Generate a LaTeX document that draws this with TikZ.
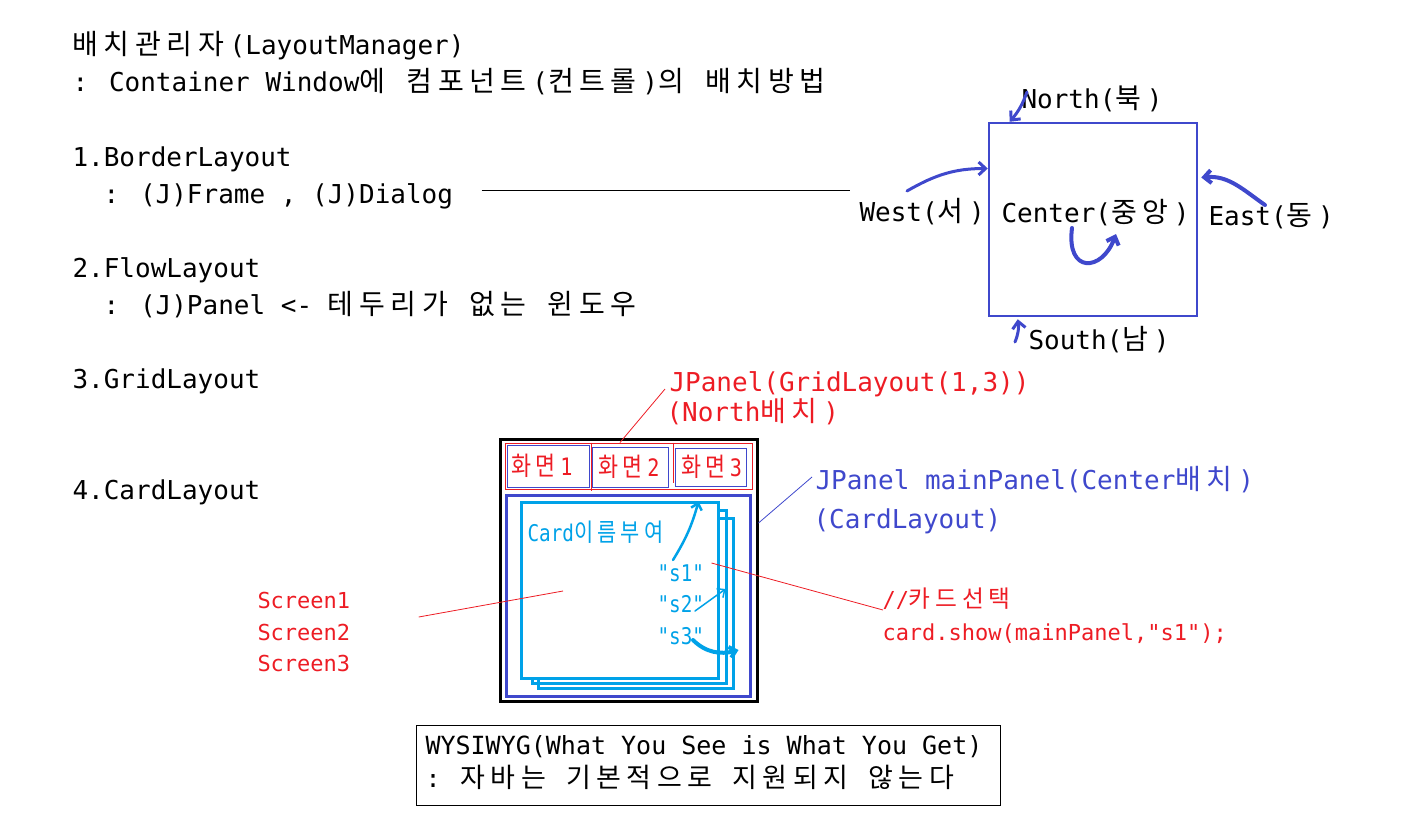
\documentclass[tikz,border=0pt]{standalone}
\usepackage{graphicx}
\usepackage{fontspec}
\setmainfont{DejaVu Sans Mono}[Ligatures=TeXOff]
\newfontfamily\krfont{Noto Sans CJK KR}[Scale=1.08]
\usetikzlibrary{arrows.meta}

% Hangul syllables are set in the CJK face (two cells wide), the rest in the mono face
\XeTeXinterchartokenstate=1
\newXeTeXintercharclass\krclass
\newcount\hgcount
\hgcount="AC00
\loop\ifnum\hgcount<"D7A4 \XeTeXcharclass\hgcount=\krclass \advance\hgcount by 1 \repeat
\XeTeXinterchartoks 0 \krclass = {\krfont}
\XeTeXinterchartoks 4095 \krclass = {\krfont}
\XeTeXinterchartoks \krclass \krclass = {\kern0.2em}
\XeTeXinterchartoks \krclass 0 = {\kern0.2em\rmfamily}
\XeTeXinterchartoks \krclass 4095 = {\kern0.2em\rmfamily}

\newcommand{\squeeze}[1]{\scalebox{0.84}[1]{#1}}

\definecolor{pred}{RGB}{237,28,36}
\definecolor{pblue}{RGB}{63,72,204}
\definecolor{pcyan}{RGB}{0,162,232}

\begin{document}
\begin{tikzpicture}
  [
  x=1pt, y=1pt, line width=1pt,
  txt/.style={anchor=base west, inner sep=0pt, font=\fontsize{26}{30}\selectfont},
  small/.style={anchor=base west, inner sep=0pt, font=\fontsize{22}{26}\selectfont},
  tiny/.style={anchor=base west, inner sep=0pt, font=\fontsize{23}{27}\selectfont},
  panel/.style 2 args={draw, inner sep=0pt, minimum width=#1pt, minimum height=#2pt},
  harrow/.style={draw=pblue, line width=3pt, line cap=round, -{Straight Barb[length=7pt,width=13pt]}},
  carrow/.style={draw=pcyan, line width=2.5pt, line cap=round, -{Straight Barb[length=6pt,width=11pt]}},
  pointer/.style={draw=pred, line width=0.8pt}
  ]
\useasboundingbox (0,0) rectangle (1409,-820);

% left column
\node[txt] (t1) at (72,-54) {배치관리자(LayoutManager)};
\node[txt] (t2) at (72,-91) {: Container Window에 컴포넌트(컨트롤)의 배치방법};
\node[txt] (b1) at (72,-166) {1.BorderLayout};
\node[txt] (b2) at (103,-203) {: (J)Frame , (J)Dialog};
\node[txt] (f1) at (72,-277) {2.FlowLayout};
\node[txt] (f2) at (103,-314) {: (J)Panel <- 테두리가 없는 윈도우};
\node[txt] (g1) at (72,-388) {3.GridLayout};
\node[txt] (c1) at (72,-499) {4.CardLayout};

% border layout
\node[panel={208}{193}, draw=pblue, line width=2.5pt] (border) at (1093,-219.5) {};
\node[txt] (ctr) at (1001,-222) {Center(중앙)};
\node[txt] (north) at (1021,-108) {North(북)};
\node[txt] (westl) at (859,-221) {West(서)};
\node[txt] (east) at (1208,-225) {East(동)};
\node[txt] (south) at (1028,-349) {South(남)};

\draw ([xshift=28pt,yshift=13pt]b2.base east) -- ([xshift=-9pt,yshift=31pt]westl.base west);

\draw[harrow] ([xshift=6pt,yshift=16pt]north.base west) to[bend left=10] ([xshift=22pt]border.north west);
\draw[harrow] ([xshift=48pt,yshift=30pt]westl.base west) to[out=30,in=180] ([yshift=51pt]border.west);
\draw[harrow, line width=4pt] ([xshift=57pt,yshift=20pt]east.base west) to[out=145,in=5] ([xshift=3pt,yshift=42pt]border.east);
\draw[harrow, line width=4pt] ([xshift=71pt,yshift=-6pt]ctr.base west) .. controls (1066,-274) and (1102,-272) .. (1116,-234);
\draw[harrow] ([xshift=-13pt,yshift=7pt]south.base west) to[bend right=15] ([xshift=30pt,yshift=-2pt]border.south west);

% card layout
\node[panel={257}{262}, line width=3pt] (frame) at (628.5,-570) {};
\node[panel={247}{46}, draw=pred] (grid) at (628.5,-466) {};
\node[panel={82}{42}, draw=pblue] (cell1) at (548,-466) {};
\node[panel={76}{40}, draw=pblue] (cell2) at (630,-467) {};
\node[panel={71}{38}, draw=pblue] (cell3) at (710.5,-467) {};
\draw[pointer] ([xshift=-37.5pt]grid.north) -- ++(0,-48);
\draw[pointer] ([xshift=44.5pt]grid.north) -- ++(0,-40);
\node[tiny, anchor=center, text=pred, font=\fontsize{24}{28}\selectfont] at ([xshift=-6pt]cell1.center) {\squeeze{화면1}};
\node[tiny, anchor=center, text=pred, font=\fontsize{24}{28}\selectfont] at ([xshift=-1pt]cell2.center) {\squeeze{화면2}};
\node[tiny, anchor=center, text=pred, font=\fontsize{24}{28}\selectfont] at ([xshift=1pt]cell3.center) {\squeeze{화면3}};

\node[panel={244}{201}, draw=pblue, line width=3pt] (mainp) at (628,-595.5) {};
\node[panel={195}{170}, draw=pcyan, line width=3pt] (card3) at (635.5,-603) {};
\node[panel={194}{173}, draw=pcyan, line width=3pt] (card2) at (629,-596.5) {};
\node[panel={197}{176}, draw=pcyan, line width=3pt, fill=white] (card1) at (619.5,-590) {};

\node[tiny, text=pcyan] (cname) at (527,-541) {\squeeze{Card이름부여}};
\node[tiny, text=pcyan] (s1) at (657,-581) {\squeeze{"s1"}};
\node[tiny, text=pcyan] (s2) at (657,-612) {\squeeze{"s2"}};
\node[tiny, text=pcyan] (s3) at (657,-644) {\squeeze{"s3"}};

\draw[carrow] ([xshift=16pt,yshift=21pt]s1.base west) to[bend right=8] ([xshift=-21pt,yshift=-1pt]card1.north east);
\draw[carrow, line width=1.5pt] ([xshift=38pt,yshift=1pt]s2.base west) -- ([xshift=-2pt,yshift=7.5pt]card2.east);
\draw[carrow, line width=4pt] ([xshift=36pt,yshift=4pt]s3.base west) to[out=-45,in=195] ([xshift=4pt,yshift=-47pt]card3.east);

% labels round the card layout
\node[txt, text=pred] (jp) at (669,-391) {JPanel(GridLayout(1,3))};
\node[txt, text=pred] (nb) at (666,-421) {(North배치)};
\node[txt, text=pblue] (mp) at (815,-489) {JPanel mainPanel(Center배치)};
\node[txt, text=pblue] (cl) at (813,-528) {(CardLayout)};
\foreach \i/\y in {1/-608,2/-640,3/-671} {
  \node[small, text=pred] (scr\i) at (257,\y) {Screen\i};
}
\node[small, text=pred] (sel) at (882,-607) {//카드선택};
\node[small, text=pred] (cshow) at (882,-640) {card.show(mainPanel,"s1");};

\draw[pointer] ([xshift=-8.5pt]grid.north) -- ([xshift=-4pt,yshift=2pt]jp.base west);
\draw[pblue, line width=0.8pt] ([yshift=47pt]frame.east) -- ([xshift=-3pt,yshift=12pt]mp.base west);
\draw[pointer] ([xshift=7pt,yshift=18pt]s1.base east) -- ([xshift=1pt,yshift=-3pt]sel.base west);
\draw[pointer] ([xshift=68pt,yshift=23pt]scr2.base east) -- ([xshift=-56.5pt,yshift=-1pt]card1.center);

% note box
\node[panel={584}{80}, anchor=north west] (wysbox) at (416,-725) {};
\node[txt, font=\fontsize{25}{30}\selectfont] (wys1) at (425,-754) {WYSIWYG(What You See is What You Get)};
\node[txt, font=\fontsize{25}{30}\selectfont] (wys2) at (425,-787) {: 자바는 기본적으로 지원되지 않는다};

\end{tikzpicture}
\end{document}
